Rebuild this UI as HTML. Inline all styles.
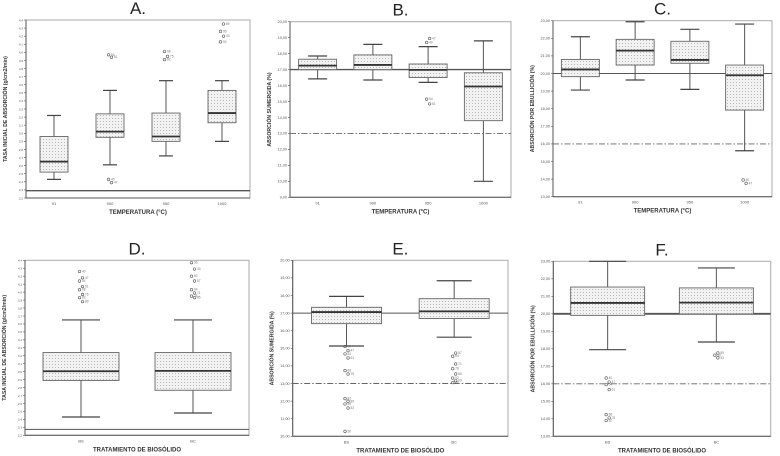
<!DOCTYPE html>
<html><head><meta charset="utf-8"><style>
html,body{margin:0;padding:0;background:#fff}
svg{display:block;font-family:"Liberation Sans",sans-serif}
</style></head><body>
<svg id="fig" width="780" height="456" viewBox="0 0 780 456" xmlns="http://www.w3.org/2000/svg">
<defs>
<pattern id="dots" width="3" height="3" patternUnits="userSpaceOnUse">
<rect width="3" height="3" fill="#f2f2f2"/><rect x="1" y="1" width="1" height="1" fill="#b8b8b8"/>
</pattern>
</defs>
</svg>
<script>
// ---- data ----
const catsTemp = ["91","900","950","1000"];
const catsBio = ["BS","BC"];

const aHigh=[10.2,13.3,14.5,14.5], aQ3=[7.6,10.4,10.5,13.3], aMed=[4.5,8.2,7.6,10.5], aQ1=[3.2,7.5,7.0,9.3], aLow=[2.3,4.1,5.2,7.0];
const aOutCat=[1,1,1,1,2,2,2,3,3,3,3];
const aOutVal=[2.3,1.9,17.7,17.4,18.1,17.5,17.1,21.5,20.6,20.0,19.3];
const aTicks=["2,2","2,3","2,4","2,5","2,6","2,7","2,8","2,9","3,0","3,1","3,2","3,3","3,4","3,5","3,6","3,7","3,8","3,9","4,0","4,1","4,2","4,3","4,4"];

const bHigh=[17.85,18.58,18.44,18.8], bQ3=[17.65,17.92,17.35,16.8], bMed=[17.25,17.29,16.98,15.94], bQ1=[17.0,17.0,16.5,13.8], bLow=[16.42,16.35,16.2,10.0];
const bOutCat=[2,2,2,2];
const bOutVal=[18.7,18.95,15.15,14.85];
const bTicks=["9,00","10,00","11,00","12,00","13,00","14,00","15,00","16,00","17,00","18,00","19,00","20,00"];

const cHigh=[22.09,22.94,22.51,22.81], cQ3=[20.8,21.94,21.83,20.48], cMed=[20.23,21.3,20.77,19.9], cQ1=[19.82,20.48,20.58,17.92], cLow=[19.06,19.63,19.1,15.61];
const cOutCat=[3,3];
const cOutVal=[13.95,13.76];
const cTicks=["13,00","14,00","15,00","16,00","17,00","18,00","19,00","20,00","21,00","22,00","23,00"];

const dHigh=[14.5,14.5], dQ3=[10.4,10.4], dMed=[8.05,8.1], dQ1=[6.9,5.66], dLow=[2.3,2.8];
const dOutCat=[0,0,0,0,0,0,0,0,1,1,1,1,1,1,1,1];
const dOutVal=[20.6,19.8,19.4,18.7,18.3,17.7,17.3,16.8,21.7,20.9,20.0,19.4,18.3,17.9,17.5,17.3];

const eHigh=[17.95,18.84], eQ3=[17.33,17.82], eMed=[17.06,17.1], eQ1=[16.4,16.69], eLow=[15.13,15.63];
const eOutCat=[0,0,0,0,0,0,0,0,0,0,0,1,1,1,1,1,1,1,1];
const eOutVal=[15.1,14.87,14.68,14.45,13.73,13.54,12.14,11.99,11.84,11.61,10.28,14.73,14.55,14.11,13.84,13.54,13.31,13.16,13.05];
const eTicks=["10,00","11,00","12,00","13,00","14,00","15,00","16,00","17,00","18,00","19,00","20,00"];

const fHigh=[23.0,22.62], fQ3=[21.53,21.48], fMed=[20.62,20.64], fQ1=[19.91,19.99], fLow=[17.95,18.39];
const fOutCat=[0,0,0,0,0,0,0,1,1,1];
const fOutVal=[16.33,16.1,15.95,15.67,14.24,14.05,13.9,17.76,17.63,17.48];
const fTicks=["13,00","14,00","15,00","16,00","17,00","18,00","19,00","20,00","21,00","22,00","23,00"];

// ---- drawing ----
const svg=document.getElementById('fig');
const NS="http://www.w3.org/2000/svg";
function el(tag,attrs,parent){const e=document.createElementNS(NS,tag);for(const k in attrs)e.setAttribute(k,attrs[k]);(parent||svg).appendChild(e);return e;}

function panel(p){
  const g=el('g',{});
  
  
  const yS=v=>p.y1-(v-p.vmin)/(p.vmax-p.vmin)*(p.y1-p.y0);
  const n=p.cats.length, step=(p.x1-p.x0)/n;
  const xS=i=>p.x0+step*(i+0.5);
  // title
  const t=el('text',{x:(p.x0+p.x1)/2,y:p.y0-6,'text-anchor':'middle','font-size':17,fill:'#222'},g);
  t.textContent=p.id+'.';
  
  
  // frame
  const fr=el('rect',{x:p.x0,y:p.y0,width:p.x1-p.x0,height:p.y1-p.y0,fill:'none',stroke:'#aaa','stroke-width':1},g);
  
  
  el('line',{x1:p.x0,y1:p.y0,x2:p.x0,y2:p.y1,stroke:'#555','stroke-width':1},g);
  el('line',{x1:p.x0,y1:p.y1,x2:p.x1,y2:p.y1,stroke:'#555','stroke-width':1},g);
  // ticks
  p.ticks.forEach((lab,i)=>{
    const v=p.tickStart+i*p.tickStep; const y=yS(v);
    el('line',{x1:p.x0-2,y1:y,x2:p.x0,y2:y,stroke:'#555','stroke-width':0.6},g);
    const tt=el('text',{x:p.x0-3,y:y+1.3,'text-anchor':'end','font-size':p.tickFont||3.8,fill:'#555'},g);
    tt.textContent=lab;
    
    
  });
  // reference lines
  if(p.ref!==undefined){const l=el('line',{x1:p.x0,y1:yS(p.ref),x2:p.x1,y2:yS(p.ref),stroke:'#555','stroke-width':p.refW||1.4},g);
    
    }
  if(p.ref2!==undefined){const l=el('line',{x1:p.x0,y1:yS(p.ref2),x2:p.x1,y2:yS(p.ref2),stroke:'#666','stroke-width':0.9,'stroke-dasharray':'6 2 1.5 2'},g);
    
    }
  // boxes
  p.cats.forEach((c,i)=>{
    const x=xS(i), w=p.bw, cw=w*0.5;
    const bg=el('g',{},g);
    
    
    el('line',{x1:x,y1:yS(p.high[i]),x2:x,y2:yS(p.q3[i]),stroke:'#555','stroke-width':1},bg);
    el('line',{x1:x,y1:yS(p.q1[i]),x2:x,y2:yS(p.low[i]),stroke:'#555','stroke-width':1},bg);
    el('line',{x1:x-cw/2,y1:yS(p.high[i]),x2:x+cw/2,y2:yS(p.high[i]),stroke:'#444','stroke-width':1.2},bg);
    el('line',{x1:x-cw/2,y1:yS(p.low[i]),x2:x+cw/2,y2:yS(p.low[i]),stroke:'#444','stroke-width':1.2},bg);
    el('rect',{x:x-w/2,y:yS(p.q3[i]),width:w,height:yS(p.q1[i])-yS(p.q3[i]),fill:'url(#dots)',stroke:'#666','stroke-width':0.9},bg);
    el('line',{x1:x-w/2,y1:yS(p.med[i]),x2:x+w/2,y2:yS(p.med[i]),stroke:'#333','stroke-width':1.8},bg);
    const xl=el('text',{x:x,y:p.y1+7,'text-anchor':'middle','font-size':4,fill:'#555'},g);
    xl.textContent=c;
    
    
  });
  // outliers
  p.oc.forEach((ci,k)=>{
    const x=xS(ci)+((k%2)?1.5:-1.5), y=yS(p.ov[k]);
    const o=el('circle',{cx:x,cy:y,r:1.3,fill:'none',stroke:'#555','stroke-width':0.6},g);
    
    
    const ol=el('text',{x:x+2.5,y:y+1,'font-size':3.2,fill:'#777'},g);
    ol.textContent=String(40+k*7%60);
  });
  // axis titles
  const xt=el('text',{x:(p.x0+p.x1)/2,y:p.y1+16,'text-anchor':'middle','font-size':6,'font-weight':'bold',fill:'#333'},g);
  xt.textContent=p.xtitle;
  
  
  const yc=(p.y0+p.y1)/2, yx=p.x0-19;
  const yt=el('text',{x:yx,y:yc,'text-anchor':'middle','font-size':5.2,'font-weight':'bold',fill:'#333',transform:`rotate(-90 ${yx} ${yc})`},g);
  yt.textContent=p.ytitle;
  
  
}

const T1="TEMPERATURA (°C)", T2="TRATAMIENTO DE BIOSÓLIDO";
panel({id:'A',x0:26,x1:250,y0:20,y1:198,vmin:0,vmax:22,cats:catsTemp,bw:28,high:aHigh,q3:aQ3,med:aMed,q1:aQ1,low:aLow,oc:aOutCat,ov:aOutVal,ticks:aTicks,tickStart:0,tickStep:1,tickFont:3,ref:0.9,xtitle:T1,ytitle:"TASA INICIAL DE ABSORCIÓN (g/cm2/min)"});
panel({id:'B',x0:290,x1:511,y0:21.7,y1:197.3,vmin:9,vmax:20,cats:catsTemp,bw:38,high:bHigh,q3:bQ3,med:bMed,q1:bQ1,low:bLow,oc:bOutCat,ov:bOutVal,ticks:bTicks,tickStart:9,tickStep:1,ref:17,ref2:13,xtitle:T1,ytitle:"ABSORCIÓN SUMERGIDA (%)"});
panel({id:'C',x0:553,x1:772,y0:20.7,y1:196.7,vmin:13,vmax:23,cats:catsTemp,bw:38,high:cHigh,q3:cQ3,med:cMed,q1:cQ1,low:cLow,oc:cOutCat,ov:cOutVal,ticks:cTicks,tickStart:13,tickStep:1,ref:20,refW:1,ref2:16,xtitle:T1,ytitle:"ABSORCIÓN POR EBULLICIÓN (%)"});
panel({id:'D',x0:25,x1:249,y0:260.3,y1:435.3,vmin:0,vmax:22,cats:catsBio,bw:76,high:dHigh,q3:dQ3,med:dMed,q1:dQ1,low:dLow,oc:dOutCat,ov:dOutVal,ticks:aTicks,tickStart:0,tickStep:1,tickFont:3,ref:0.75,refW:1,xtitle:T2,ytitle:"TASA INICIAL DE ABSORCIÓN (g/cm2/min)"});
panel({id:'E',x0:292.7,x1:508,y0:260.3,y1:436.3,vmin:10,vmax:20,cats:catsBio,bw:70,high:eHigh,q3:eQ3,med:eMed,q1:eQ1,low:eLow,oc:eOutCat,ov:eOutVal,ticks:eTicks,tickStart:10,tickStep:1,ref:17,refW:1,ref2:13,xtitle:T2,ytitle:"ABSORCIÓN SUMERGIDA (%)"});
panel({id:'F',x0:553.3,x1:770.7,y0:261.3,y1:436.3,vmin:13,vmax:23,cats:catsBio,bw:74,high:fHigh,q3:fQ3,med:fMed,q1:fQ1,low:fLow,oc:fOutCat,ov:fOutVal,ticks:fTicks,tickStart:13,tickStep:1,ref:20,refW:1.8,ref2:16,xtitle:T2,ytitle:"ABSORCIÓN POR EBULLICIÓN (%)"});
</script>
</body></html>
